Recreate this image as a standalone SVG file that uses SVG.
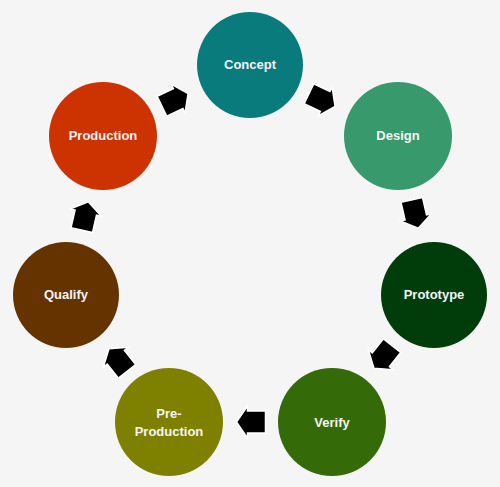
<svg xmlns="http://www.w3.org/2000/svg" width="500" height="487" viewBox="0 0 500 487">
<style>
.lbl{font-family:"Liberation Sans",Arial,sans-serif;font-weight:bold;font-size:13px;fill:#f4f4f4;text-anchor:middle}
.arr{fill:#000;stroke:#fff;stroke-width:1.5;stroke-linejoin:miter}
</style>
<defs>
<path id="blk" d="M-14.5,-11 L3.5,-11 L3.5,-16 L14.5,0 L3.5,16 L3.5,11 L-14.5,11 Z"/>
</defs>
<rect width="500" height="487" fill="#f5f5f5"/>
<g id="connectors">
<use href="#blk" class="arr" transform="translate(322,100) rotate(25.7)"/>
<use href="#blk" class="arr" transform="translate(415,214) rotate(77.1)"/>
<use href="#blk" class="arr" transform="translate(383,357) rotate(128.6)"/>
<use href="#blk" class="arr" transform="translate(251,422) rotate(180)"/>
<use href="#blk" class="arr" transform="translate(118,360) rotate(231.4)"/>
<use href="#blk" class="arr" transform="translate(85,216) rotate(282.9)"/>
<use href="#blk" class="arr" transform="translate(175,100) rotate(334.3)"/>
</g>
<g id="concept"><circle cx="250" cy="65" r="53" fill="#0a7b7d"/><text class="lbl" x="250" y="69">Concept</text></g>
<g id="design"><circle cx="398" cy="136" r="54" fill="#38996c"/><text class="lbl" x="398" y="140">Design</text></g>
<g id="prototype"><circle cx="434" cy="295" r="53" fill="#003d0a"/><text class="lbl" x="434" y="299">Prototype</text></g>
<g id="verify"><circle cx="332" cy="422" r="54" fill="#346a07"/><text class="lbl" x="332" y="427">Verify</text></g>
<g id="preproduction"><circle cx="169" cy="422" r="54" fill="#7e8000"/><text class="lbl" x="169" y="418">Pre-</text><text class="lbl" x="169" y="436">Production</text></g>
<g id="qualify"><circle cx="66" cy="295" r="53" fill="#653300"/><text class="lbl" x="66" y="299">Qualify</text></g>
<g id="production"><circle cx="103" cy="136" r="54" fill="#cc3300"/><text class="lbl" x="103" y="140">Production</text></g>
</svg>
